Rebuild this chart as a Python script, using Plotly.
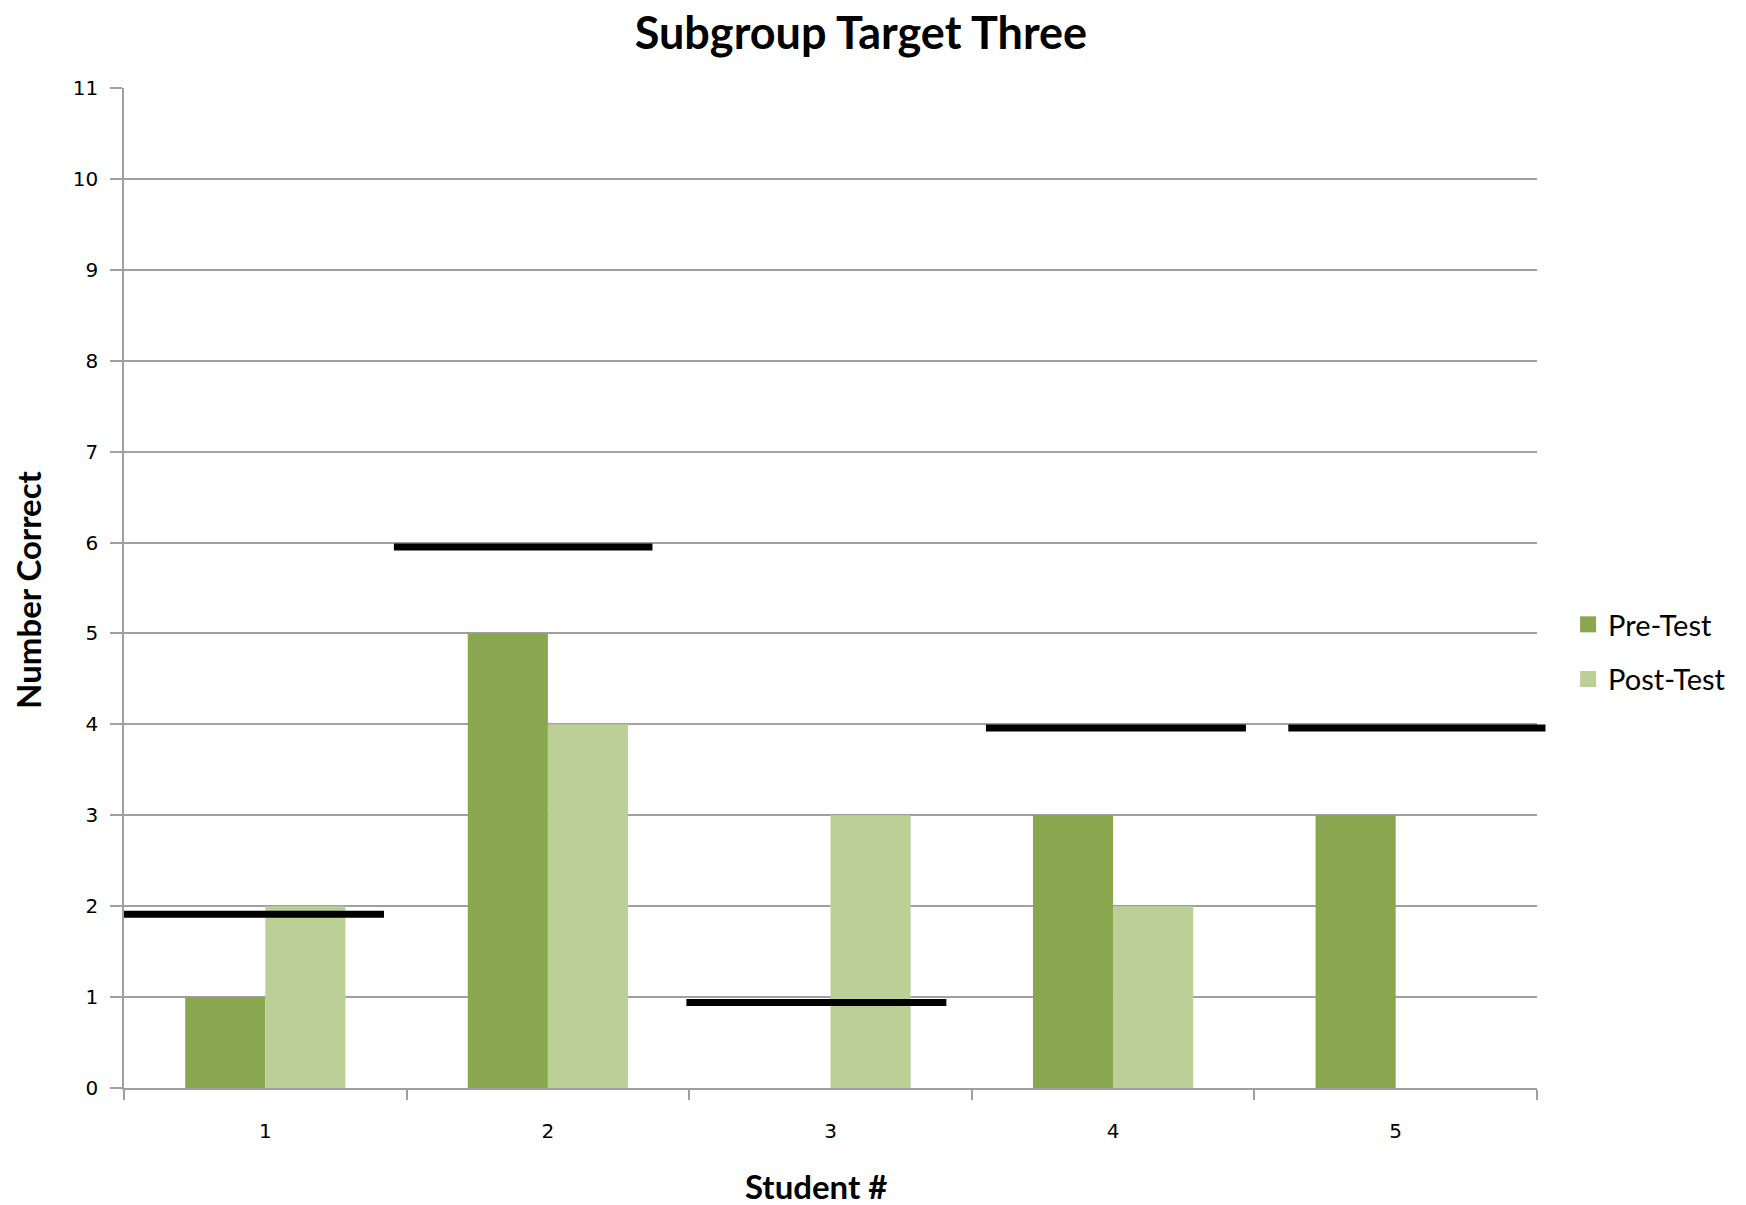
import plotly.graph_objects as go

students = [1, 2, 3, 4, 5]
tick_labels = ["1", "2", "3", "4", "5"]
pre_test = [1, 5, 0, 3, 3]
post_test = [2, 4, 3, 2, 0]
# hand-drawn target marks (value, start, end along the student axis)
target_values = [1.91, 5.95, 0.94, 3.96, 3.96]
target_starts = [0.5, 1.455, 2.49, 3.55, 4.62]
target_ends = [1.42, 2.37, 3.41, 4.47, 5.53]

X_RANGE = [0.5, 5.5]
PRE_COLOR = "#8AA64F"
POST_COLOR = "#BBCF97"

fig = go.Figure()
fig.add_trace(go.Bar(x=students, y=pre_test, name="Pre-Test",
                     marker=dict(color=PRE_COLOR, line=dict(width=0)),
                     showlegend=False))
fig.add_trace(go.Bar(x=students, y=post_test, name="Post-Test",
                     marker=dict(color=POST_COLOR, line=dict(width=0)),
                     showlegend=False))
# legend entries with larger square swatches
fig.add_trace(go.Scatter(x=[None], y=[None], mode="markers", name="Pre-Test",
                         marker=dict(symbol="square", size=23, color=PRE_COLOR),
                         legendgroup="a"))
fig.add_trace(go.Scatter(x=[None], y=[None], mode="markers", name="Post-Test",
                         marker=dict(symbol="square", size=23, color=POST_COLOR),
                         legendgroup="b"))

def to_paper(v):
    return (v - X_RANGE[0]) / (X_RANGE[1] - X_RANGE[0])

for v, s, e in zip(target_values, target_starts, target_ends):
    fig.add_shape(type="line", xref="paper", yref="y",
                  x0=to_paper(s), x1=to_paper(e), y0=v, y1=v,
                  line=dict(color="black", width=7), layer="above")

fig.add_annotation(text="<b>Number Correct</b>", textangle=-90,
                   xref="paper", yref="paper", x=-0.068, y=0.498,
                   xanchor="center", yanchor="middle", showarrow=False,
                   font=dict(family="Lato", size=33, color="black"))
fig.add_annotation(text="<b>Student #</b>",
                   xref="paper", yref="paper", x=0.4897, y=-0.098,
                   xanchor="center", yanchor="middle", showarrow=False,
                   font=dict(family="Lato", size=33, color="black"))

fig.update_layout(
    width=1746, height=1205,
    paper_bgcolor="white", plot_bgcolor="white",
    margin=dict(l=116, r=217, t=80, b=125),
    barmode="group", bargap=0.433, bargroupgap=0,
    title=dict(text="<b>Subgroup Target Three</b>", x=0.4885, xanchor="center",
               y=0.979, yanchor="middle",
               font=dict(family="Lato", size=45, color="black")),
    legend=dict(x=1.022, y=0.489, xanchor="left", yanchor="top",
                font=dict(family="Lato", size=29, color="black"),
                traceorder="grouped", tracegroupgap=14,
                itemwidth=30, bgcolor="rgba(0,0,0,0)"),
    showlegend=True,
)
fig.update_xaxes(
    range=X_RANGE, tickvals=students, ticktext=tick_labels,
    ticks="", showgrid=False, zeroline=False,
    showline=True, linecolor="#A0A0A0", linewidth=1.5,
    tickfont=dict(family="DejaVu Sans", size=20, color="black"),
    ticklabelstandoff=24,
    minor=dict(tick0=0.5, dtick=1, ticks="outside", ticklen=10,
               tickcolor="#A0A0A0", tickwidth=1.5, showgrid=False),
)
fig.update_yaxes(
    range=[0, 11], dtick=1, tick0=0,
    ticks="outside", ticklen=12, tickcolor="#A0A0A0", tickwidth=1.5,
    showgrid=True, gridcolor="#A0A0A0", gridwidth=1.5,
    zeroline=False, showline=True, linecolor="#A0A0A0", linewidth=1.5,
    tickfont=dict(family="DejaVu Sans", size=20, color="black"),
    ticklabelstandoff=8,
)

fig.write_html("out.html")
